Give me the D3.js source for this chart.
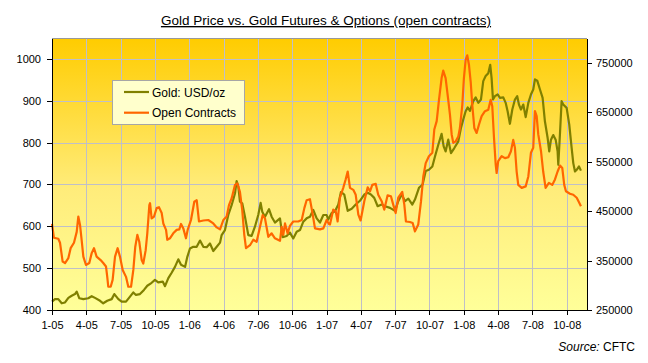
<!DOCTYPE html>
<html><head><meta charset="utf-8">
<script src="https://cdn.jsdelivr.net/npm/d3@7"></script>
<style>
html,body{margin:0;padding:0;background:#fff;}
svg{display:block;font-family:"Liberation Sans",Arial,sans-serif;}
</style></head>
<body>
<svg id="c" width="648" height="363"></svg>
<script>
// x positions are months since January 2005
const tickLabels = ["1-05","4-05","7-05","10-05","1-06","4-06","7-06","10-06","1-07","4-07","7-07","10-07","1-08","4-08","7-08","10-08"];
const tickMonths = [0,3,6,9,12,15,18,21,24,27,30,33,36,39,42,45];
const leftTicks = [400,500,600,700,800,900,1000];
const rightTicks = [250000,350000,450000,550000,650000,750000];

const goldMonths = [
0,0.26,0.55,0.85,1.14,1.43,1.72,2.01,2.16,2.39, 2.74,3.17,3.47,3.76,4.20,4.48,4.83,5.22,5.45,5.80,
6.09,6.47,6.82,7.11,7.34,7.69,8.04,8.33,8.71,9.00, 9.29,9.68,9.88,10.17,10.46,10.75,11.04,11.28,11.63,11.83,
12.06,12.35,12.65,12.94,13.23,13.52,13.81,14.10,14.40,14.69, 14.83,15.12,15.41,15.71,16.0,16.14,16.29,16.43,16.63,16.87,
17.16,17.45,17.74,18.03,18.24,18.38,18.62,18.97,19.20,19.49, 19.93,20.16,20.51,20.80,21.09,21.39,21.68,21.97,22.26,22.55,
22.84,23.14,23.43,23.72,24.01,
24.15,24.45,24.74,25.03,25.26,25.55,25.85,26.20,26.55,26.92, 27.30,27.60,27.88,28.17,28.47,28.82,29.11,29.55,29.98,30.27,
30.57,30.86,31.15,31.50,31.73,32.08,32.40,32.67,32.95,33.25, 33.48,33.77,34.06,34.24,34.41,34.64,34.88,35.17,
35.52,35.75,35.95,36.16,36.34,36.54,36.83,37.04,37.27,37.50, 37.70,37.91,38.14,38.31,38.43,38.55,38.72,38.96,39.16,39.45,
39.66,39.83,40.03,40.24,40.47,40.67,40.82,41.00,41.20,41.41, 41.64,41.87,42.07,42.22,42.42,42.66,42.89,43.09,43.33,43.47,
43.62,43.82,44.03,44.20,44.26,44.41,44.55,44.69,44.99,45.22, 45.43,45.57,45.72,45.87,46.07,46.24];
const goldValues = [
420,426,426,416,418,429,434,438,444,428, 426,428,433,429,422,416,422,426,438,426,
420,420,432,442,436,438,448,458,465,472, 466,468,457,476,489,503,521,508,503,527,
547,551,551,566,551,550,559,541,551,561, 579,591,627,651,679,708,695,659,655,623,
579,577,599,627,656,635,623,641,623,609, 619,574,577,585,571,587,591,611,619,623,
639,619,609,627,627,
616,632,636,652,682,676,637,642,652,661, 676,680,676,668,648,652,648,644,637,660,
676,660,666,652,664,692,700,732,735,743, 767,795,821,791,779,807,775,787,
803,835,855,875,884,876,899,908,895,903, 947,959,966,986,954,903,911,915,907,908,
895,875,845,879,903,911,891,879,891,861, 895,915,927,951,948,927,907,851,811,779,
807,818,807,779,747,823,899,891,883,843, 787,751,731,735,743,733];

const oiMonths = [
0,0.17,0.55,0.70,0.93,1.14,1.43,1.63,1.92,2.16, 2.30,2.45,2.59,2.74,2.97,3.26,3.47,3.67,3.90,4.25,
4.48,4.72,4.83,4.92,5.13,5.30,5.51,5.74,5.94,6.18, 6.47,6.67,6.91,7.11,7.28,7.46,7.63,7.84,7.98,8.19,
8.33,8.51,8.57,8.71,8.92,9.15,9.35,9.59,9.73,9.97, 10.08,10.31,10.60,10.90,11.13,11.28,11.48,11.71,
11.86,12.15,12.44,12.65,12.85,13.23,13.66,14.10,14.40,14.69, 14.98,15.27,15.47,15.71,16.0,16.20,16.43,16.63,16.81,16.96,
17.31,17.60,17.89,18.18,18.42,18.62,18.91,19.20,19.49,19.93, 20.08,20.22,20.37,20.60,20.80,21.09,21.53,21.83,22.06,22.26,
22.55,22.75,22.99,23.43,23.72,24.01,24.21,
24.30,24.59,24.80,24.97,25.17,25.46,25.67,25.85,26.05,26.34, 26.55,26.78,26.98,27.30,27.60,27.80,28.00,28.30,28.52,28.82,
29.05,29.34,29.63,29.83,30.04,30.27,30.62,30.80,30.94,31.29, 31.53,31.73,32.02,32.26,32.46,32.67,32.95,33.25,33.42,33.63,
33.83,34.06,34.20,34.41,34.64,34.79,34.94,35.08,35.29,35.52, 35.66,
35.87,36.01,36.16,36.30,36.45,36.60,36.74,36.92,37.12,37.33, 37.56,37.85,38.14,38.35,38.49,38.64,38.79,38.87,39.01,39.31,
39.60,39.89,40.12,40.32,40.47,40.62,40.76,41.06,41.41,41.64, 41.87,42.07,42.22,42.37,42.51,42.75,42.94,43.15,43.44,43.73,
43.97,44.20,44.41,44.61,44.78,44.93,45.28,45.57,45.87,46.07, 46.24];
const oiValues = [
424000,396000,394000,386000,348000,345000,355000,375000,386000,408000, 439000,422000,392000,358000,341000,345000,365000,375000,358000,351000,
345000,338000,317000,297000,297000,311000,358000,375000,358000,331000, 317000,297000,297000,331000,378000,402000,388000,351000,344000,371000,
405000,462000,466000,435000,439000,456000,458000,446000,425000,412000, 392000,395000,405000,412000,413000,424000,415000,395000,
412000,432000,469000,472000,429000,431000,432000,425000,417000,413000, 432000,439000,462000,476000,503000,506000,489000,452000,402000,375000,
381000,392000,388000,418000,442000,435000,398000,405000,395000,390000, 418000,402000,425000,405000,420000,429000,429000,432000,456000,472000,
474000,449000,415000,413000,415000,432000,424000,
423000,453000,450000,429000,477000,497000,514000,530000,497000,493000, 483000,443000,431000,470000,498000,490000,503000,505000,483000,470000,
453000,482000,480000,463000,446000,477000,489000,463000,429000,428000, 426000,409000,423000,470000,520000,547000,561000,568000,615000,632000,
675000,719000,734000,719000,675000,645000,605000,588000,591000,601000, 618000,
665000,719000,756000,765000,746000,712000,665000,618000,608000,625000, 642000,652000,655000,675000,662000,598000,544000,527000,551000,561000,
557000,559000,571000,594000,578000,530000,503000,497000,500000,520000, 568000,578000,652000,642000,605000,571000,530000,497000,507000,503000,
514000,530000,542000,537000,503000,490000,485000,483000,477000,468000, 460000];

const seriesNames = ["Gold: USD/oz","Open Contracts"];
const titleText = "Gold Price vs. Gold Futures & Options (open contracts)";

const svg = d3.select("#c");
const L = 52, R = 587, T = 38, B = 310;

const x = d3.scaleLinear().domain([0, 46.77]).range([L, R]);
const yL = d3.scaleLinear().domain([400, 1050]).range([B, T]);
const yR = d3.scaleLinear().domain([250000, 800000]).range([B, T]);

// gradient
const defs = svg.append("defs");
const g = defs.append("linearGradient").attr("id","bg").attr("x1",0).attr("y1",0).attr("x2",0).attr("y2",1);
g.append("stop").attr("offset","0%").attr("stop-color","#FFCC00");
g.append("stop").attr("offset","55%").attr("stop-color","#FFEC7A");
g.append("stop").attr("offset","100%").attr("stop-color","#FFFF99");

svg.append("rect").attr("x",L).attr("y",T).attr("width",R-L).attr("height",B-T).attr("fill","url(#bg)");

// gridlines
const grid = svg.append("g").attr("stroke","#BFBFC8").attr("stroke-width",1).attr("shape-rendering","crispEdges");
tickMonths.slice(1).forEach(m => {
  grid.append("line").attr("x1",Math.round(x(m))+0.5).attr("x2",Math.round(x(m))+0.5).attr("y1",T).attr("y2",B);
});
leftTicks.slice(1).forEach(v => {
  grid.append("line").attr("x1",L).attr("x2",R).attr("y1",Math.round(yL(v))+0.5).attr("y2",Math.round(yL(v))+0.5);
});
// top border
svg.append("line").attr("x1",L).attr("x2",R).attr("y1",T+0.5).attr("y2",T+0.5).attr("stroke","#999").attr("shape-rendering","crispEdges");

// lines
const goldData = d3.zip(goldMonths, goldValues);
const oiData = d3.zip(oiMonths, oiValues);
svg.append("path").datum(goldData)
  .attr("d", d3.line().x(d=>x(d[0])).y(d=>yL(d[1])))
  .attr("fill","none").attr("stroke","#808000").attr("stroke-width",2.2).attr("stroke-linejoin","round");
svg.append("path").datum(oiData)
  .attr("d", d3.line().x(d=>x(d[0])).y(d=>yR(d[1])))
  .attr("fill","none").attr("stroke","#FF6600").attr("stroke-width",2.2).attr("stroke-linejoin","round");

// axes
const axStyle = sel => {
  sel.selectAll("path,line").attr("stroke","#000").attr("shape-rendering","crispEdges");
  sel.selectAll("text").attr("fill","#000").style("font-size","11px").style("font-family",'"Liberation Sans",Arial,sans-serif');
};
svg.append("g").attr("transform",`translate(${L},0)`)
  .call(d3.axisLeft(yL).tickValues(leftTicks).tickSize(5).tickPadding(6).tickSizeOuter(0).tickFormat(d3.format("d")))
  .call(axStyle);
svg.append("g").attr("transform",`translate(${R},0)`)
  .call(d3.axisRight(yR).tickValues(rightTicks).tickSize(5).tickPadding(4).tickSizeOuter(0).tickFormat(d3.format("d")))
  .call(axStyle);
svg.append("g").attr("transform",`translate(0,${B})`)
  .call(d3.axisBottom(x).tickValues(tickMonths).tickSize(5).tickPadding(6).tickSizeOuter(0).tickFormat((d,i)=>tickLabels[i]))
  .call(axStyle);

// title
svg.append("text").attr("x",326).attr("y",25).attr("text-anchor","middle")
  .style("font-size","13.5px").style("text-decoration","underline").attr("fill","#000").text(titleText);

// legend
const lg = svg.append("g");
lg.append("rect").attr("x",112.5).attr("y",80.5).attr("width",132).attr("height",44)
  .attr("fill","#FFFFCC").attr("stroke","#A6A6A6").attr("stroke-width",1);
const lcol = ["#808000","#FF6600"];
seriesNames.forEach((n,i)=>{
  const yy = 92 + i*20.7;
  lg.append("line").attr("x1",124).attr("x2",149).attr("y1",yy).attr("y2",yy).attr("stroke",lcol[i]).attr("stroke-width",2.2);
  lg.append("text").attr("x",152).attr("y",yy+4.5).style("font-size","12px").attr("fill","#000").text(n);
});

// source
const src = svg.append("text").attr("x",635).attr("y",351).attr("text-anchor","end").style("font-size","12px").attr("fill","#000");
src.append("tspan").style("font-style","italic").text("Source:");
src.append("tspan").text(" CFTC");
</script>
</body></html>
